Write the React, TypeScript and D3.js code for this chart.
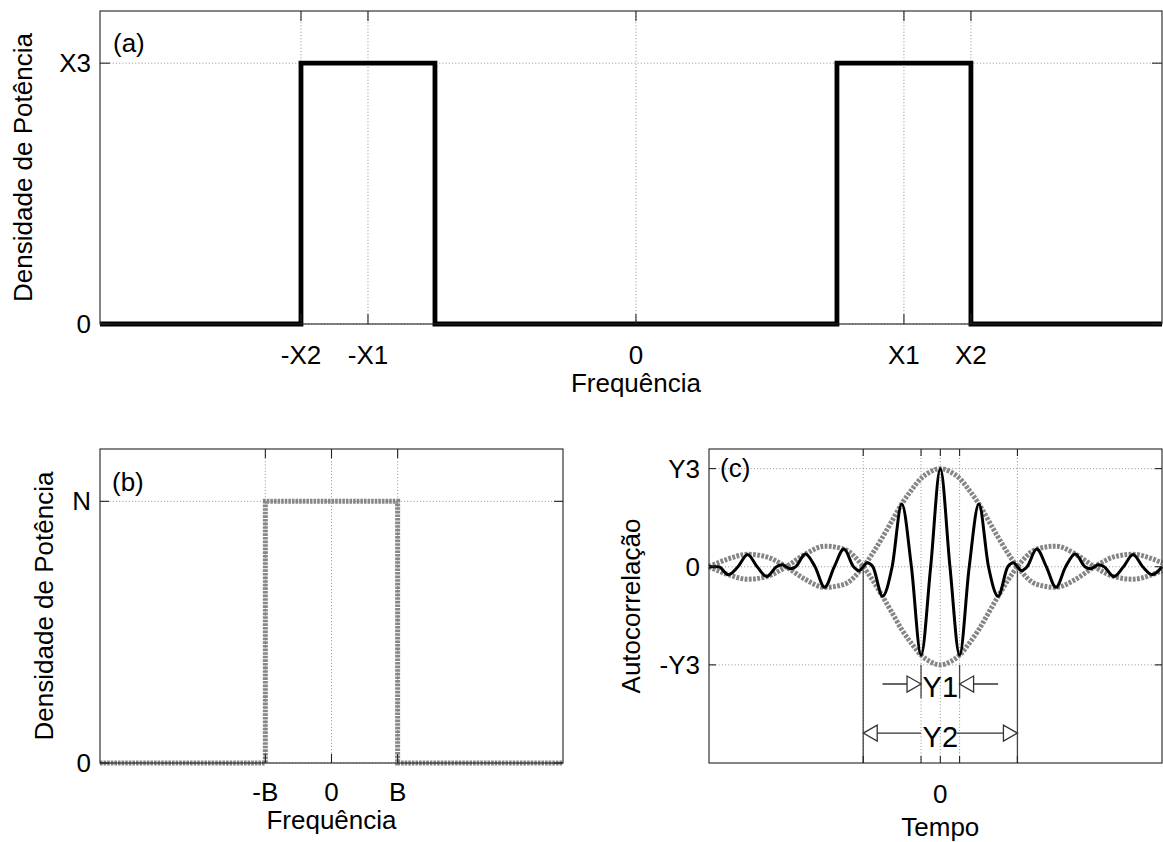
import React from "react";
import * as d3 from "d3";

const FONT = "'Liberation Sans', Arial, Helvetica, sans-serif";
const W = 1163;
const H = 842;
const FS = 26;

// ---------- Panel (a): band-pass power spectral density ----------
const aFreq = [-2, -1.25, -1.25, -0.75, -0.75, 0.75, 0.75, 1.25, 1.25, 1.963];
const aPower = [0, 0, 1, 1, 0, 0, 1, 1, 0, 0];
const aXTicks = [-1.25, -1, 0, 1, 1.25];
const aXLabels = ["-X2", "-X1", "0", "X1", "X2"];
const aYTicks = [0, 1];
const aYLabels = ["0", "X3"];

// ---------- Panel (b): low-pass noise power spectral density ----------
const bFreq = [-3.5, -1, -1, 1, 1, 3.5];
const bPower = [0, 0, 1, 1, 0, 0];
const bXTicks = [-1, 0, 1];
const bXLabels = ["-B", "0", "B"];
const bYTicks = [0, 1];
const bYLabels = ["0", "N"];

// ---------- Panel (c): autocorrelation ----------
const cTime = [
  -6, -5.75, -5.5, -5.25, -5, -4.75, -4.5, -4.25, -4.1, -4, -3.9, -3.75, -3.5, -3.25, -3, -2.75,
  -2.5, -2.25, -2.1, -2, -1.9, -1.75, -1.5, -1.25, -1, -0.75, -0.5, -0.25, 0, 0.25, 0.5, 0.75, 1,
  1.25, 1.5, 1.75, 1.9, 2, 2.1, 2.25, 2.5, 2.75, 3, 3.25, 3.5, 3.75, 3.9, 4, 4.1, 4.25, 4.5, 4.75,
  5, 5.25, 5.5, 5.75,
];
const cAutocorr = [
  0, 0, -0.08, 0, 0.125, 0, -0.1, 0, 0.02, 0, -0.02, 0, 0.13, 0, -0.21, 0,
  0.18, 0, -0.04, 0, 0.04, 0, -0.3, 0, 0.64, 0, -0.9, 0, 1, 0, -0.9, 0, 0.64,
  0, -0.3, 0, 0.04, 0, -0.04, 0, 0.18, 0, -0.21, 0, 0.13, 0, -0.02, 0, 0.02, 0, -0.1, 0,
  0.125, 0, -0.08, 0,
];
const cEnvTime = [
  -6, -5.5, -5, -4.5, -4, -3.5, -3, -2.5, -2, -1.75, -1.5, -1.25, -1, -0.75, -0.5, -0.25, 0,
  0.25, 0.5, 0.75, 1, 1.25, 1.5, 1.75, 2, 2.5, 3, 3.5, 4, 4.5, 5, 5.5, 5.75,
];
const cEnvelope = [
  0, 0.08, 0.127, 0.1, 0, -0.13, -0.21, -0.18, 0, 0.14, 0.3, 0.47, 0.64, 0.78, 0.9, 0.97, 1,
  0.97, 0.9, 0.78, 0.64, 0.47, 0.3, 0.14, 0, -0.18, -0.21, -0.13, 0, 0.1, 0.127, 0.08, 0.04,
];
const cXTicks = [-2, -0.5, 0, 0.5, 2];
const cXLabels = ["", "", "0", "", ""];
const cYTicks = [-1, 0, 1];
const cYLabels = ["-Y3", "0", "Y3"];
const cY1Level = -1.195;
const cY2Level = -1.695;
const cY1Extent = [-1.5, -0.5, 0.5, 1.5];
const cY2Extent = [-2, -0.5, 0.5, 2];

type Lin = d3.ScaleLinear<number, number>;

function Grid({ xs, ys, xTicks, yTicks }: { xs: Lin; ys: Lin; xTicks: number[]; yTicks: number[] }) {
  const [x0, x1] = xs.range();
  const [y0, y1] = ys.range();
  return (
    <g stroke="#8f8f8f" strokeWidth={1} strokeDasharray="1,2.2" fill="none">
      {xTicks.map((t, i) => (
        <line key={"gx" + i} x1={xs(t)} x2={xs(t)} y1={y0} y2={y1} />
      ))}
      {yTicks.map((t, i) => (
        <line key={"gy" + i} x1={x0} x2={x1} y1={ys(t)} y2={ys(t)} />
      ))}
    </g>
  );
}

function Frame({
  xs, ys, xTicks, yTicks, xLabels, yLabels, tickLen, xLabelGap,
}: {
  xs: Lin; ys: Lin; xTicks: number[]; yTicks: number[]; xLabels: string[]; yLabels: string[];
  tickLen: number; xLabelGap: number;
}) {
  const [x0, x1] = xs.range();
  const [yb, yt] = ys.range();
  return (
    <g>
      <g stroke="#222" strokeWidth={1.1}>
        {xTicks.map((t, i) => (
          <g key={"tx" + i}>
            <line x1={xs(t)} x2={xs(t)} y1={yb} y2={yb - tickLen} />
            <line x1={xs(t)} x2={xs(t)} y1={yt} y2={yt + tickLen} />
          </g>
        ))}
        {yTicks.map((t, i) => (
          <g key={"ty" + i}>
            <line x1={x0} x2={x0 + tickLen} y1={ys(t)} y2={ys(t)} />
            <line x1={x1} x2={x1 - tickLen} y1={ys(t)} y2={ys(t)} />
          </g>
        ))}
      </g>
      <rect x={x0} y={yt} width={x1 - x0} height={yb - yt} fill="none" stroke="#222" strokeWidth={1.1} />
      <g fontFamily={FONT} fontSize={FS} fill="#000">
        {xTicks.map((t, i) => (
          <text key={"lx" + i} x={xs(t)} y={yb + xLabelGap} textAnchor="middle">
            {xLabels[i]}
          </text>
        ))}
        {yTicks.map((t, i) => (
          <text key={"ly" + i} x={x0 - 9} y={ys(t) + 9} textAnchor="end">
            {yLabels[i]}
          </text>
        ))}
      </g>
    </g>
  );
}

export default function App() {
  const xa = d3.scaleLinear().domain([-2, 1.963]).range([100, 1162]);
  const ya = d3.scaleLinear().domain([0, 1.2]).range([324, 11]);
  const xb = d3.scaleLinear().domain([-3.5, 3.5]).range([100, 563]);
  const yb = d3.scaleLinear().domain([0, 1.2]).range([763, 449]);
  const xc = d3.scaleLinear().domain([-6, 5.75]).range([709, 1162]);
  const yc = d3.scaleLinear().domain([-2, 1.2]).range([763, 449]);

  const lineA = d3.line<number>().x((_, i) => xa(aFreq[i])).y((d) => ya(d));
  const lineB = d3.line<number>().x((_, i) => xb(bFreq[i])).y((d) => yb(d));
  const lineC = d3
    .line<number>()
    .x((_, i) => xc(cTime[i]))
    .y((d) => yc(d))
    .curve(d3.curveMonotoneX);
  const envUp = d3
    .line<number>()
    .x((_, i) => xc(cEnvTime[i]))
    .y((d) => yc(d))
    .curve(d3.curveMonotoneX);
  const envDown = d3
    .line<number>()
    .x((_, i) => xc(cEnvTime[i]))
    .y((d) => yc(-d))
    .curve(d3.curveMonotoneX);

  const y1y = yc(cY1Level);
  const y2y = yc(cY2Level);
  const ah = 14; // arrowhead length
  const aw = 8; // arrowhead half width
  const tri = (tip: number, dir: number, yy: number) =>
    `${tip},${yy} ${tip - dir * ah},${yy - aw} ${tip - dir * ah},${yy + aw}`;

  return (
    <svg
      width={W}
      height={H}
      viewBox={`0 0 ${W} ${H}`}
      style={{ position: "absolute", left: 0, top: 0, background: "#fff" }}
    >
      <rect x={0} y={0} width={W} height={H} fill="#fff" />

      {/* Panel (a) */}
      <Grid xs={xa} ys={ya} xTicks={aXTicks} yTicks={aYTicks} />
      <path d={lineA(aPower) || ""} fill="none" stroke="#000" strokeWidth={4.8} strokeLinejoin="miter" />
      <Frame xs={xa} ys={ya} xTicks={aXTicks} yTicks={aYTicks} xLabels={aXLabels} yLabels={aYLabels} tickLen={10} xLabelGap={40} />
      <text x={113} y={52} fontFamily={FONT} fontSize={FS}>(a)</text>
      <text x={xa(0)} y={392} fontFamily={FONT} fontSize={FS} textAnchor="middle">Frequência</text>
      <text transform={`translate(32,${(ya.range()[0] + ya.range()[1]) / 2}) rotate(-90)`} fontFamily={FONT} fontSize={FS} textAnchor="middle">
        Densidade de Potência
      </text>

      {/* Panel (b) */}
      <Grid xs={xb} ys={yb} xTicks={bXTicks} yTicks={bYTicks} />
      <path d={lineB(bPower) || ""} fill="none" stroke="#878787" strokeWidth={5} strokeDasharray="2.6,1" />
      <Frame xs={xb} ys={yb} xTicks={bXTicks} yTicks={bYTicks} xLabels={bXLabels} yLabels={bYLabels} tickLen={9} xLabelGap={38} />
      <text x={112} y={491} fontFamily={FONT} fontSize={FS}>(b)</text>
      <text x={xb(0)} y={829} fontFamily={FONT} fontSize={FS} textAnchor="middle">Frequência</text>
      <text transform={`translate(53,${(yb.range()[0] + yb.range()[1]) / 2}) rotate(-90)`} fontFamily={FONT} fontSize={FS} textAnchor="middle">
        Densidade de Potência
      </text>

      {/* Panel (c) */}
      <Grid xs={xc} ys={yc} xTicks={cXTicks} yTicks={cYTicks} />
      <g stroke="#444" strokeWidth={1.3}>
        <line x1={xc(cY2Extent[0])} x2={xc(cY2Extent[0])} y1={yc(0)} y2={yc(-2)} />
        <line x1={xc(cY2Extent[3])} x2={xc(cY2Extent[3])} y1={yc(0)} y2={yc(-2)} />
        <line x1={xc(cY1Extent[1])} x2={xc(cY1Extent[1])} y1={yc(-1)} y2={yc(-1.34)} />
        <line x1={xc(cY1Extent[2])} x2={xc(cY1Extent[2])} y1={yc(-1)} y2={yc(-1.34)} />
      </g>
      <path d={envUp(cEnvelope) || ""} fill="none" stroke="#858585" strokeWidth={5} strokeDasharray="2.8,1.4" />
      <path d={envDown(cEnvelope) || ""} fill="none" stroke="#858585" strokeWidth={5} strokeDasharray="2.8,1.4" />
      <path d={lineC(cAutocorr) || ""} fill="none" stroke="#000" strokeWidth={3} strokeLinejoin="round" />
      <g stroke="#333" strokeWidth={1.3} fill="#fff">
        <line x1={xc(cY1Extent[0])} x2={xc(cY1Extent[1])} y1={y1y} y2={y1y} />
        <line x1={xc(cY1Extent[2])} x2={xc(cY1Extent[3])} y1={y1y} y2={y1y} />
        <polygon points={tri(xc(cY1Extent[1]), 1, y1y)} />
        <polygon points={tri(xc(cY1Extent[2]), -1, y1y)} />
        <line x1={xc(cY2Extent[0])} x2={xc(cY2Extent[1])} y1={y2y} y2={y2y} />
        <line x1={xc(cY2Extent[2]) - 3} x2={xc(cY2Extent[3])} y1={y2y} y2={y2y} />
        <polygon points={tri(xc(cY2Extent[0]), -1, y2y)} />
        <polygon points={tri(xc(cY2Extent[3]), 1, y2y)} />
      </g>
      <text x={xc(0)} y={697} fontFamily={FONT} fontSize={29} textAnchor="middle">Y1</text>
      <text x={xc(0)} y={747} fontFamily={FONT} fontSize={29} textAnchor="middle">Y2</text>
      <Frame xs={xc} ys={yc} xTicks={cXTicks} yTicks={cYTicks} xLabels={cXLabels} yLabels={cYLabels} tickLen={7} xLabelGap={40} />
      <text x={720} y={477} fontFamily={FONT} fontSize={FS}>(c)</text>
      <text x={xc(0)} y={836} fontFamily={FONT} fontSize={FS} textAnchor="middle">Tempo</text>
      <text transform={`translate(640,${(yc.range()[0] + yc.range()[1]) / 2}) rotate(-90)`} fontFamily={FONT} fontSize={FS} textAnchor="middle">
        Autocorrelação
      </text>
    </svg>
  );
}
